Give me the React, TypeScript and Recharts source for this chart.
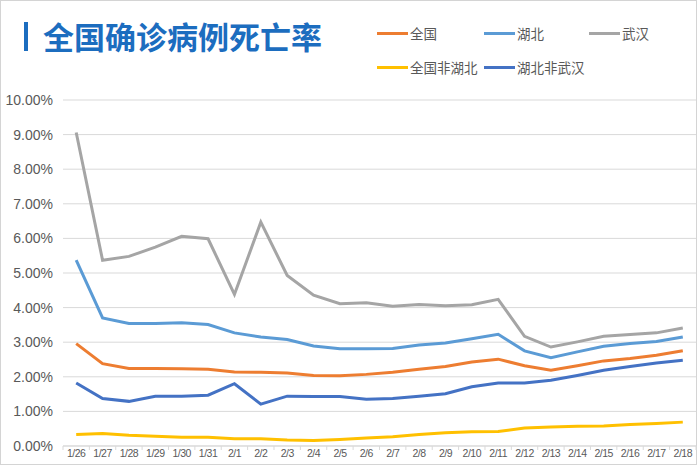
import React from 'react';
import { LineChart, Line, XAxis, YAxis, CartesianGrid } from 'recharts';

const DATES = [
  '1/26', '1/27', '1/28', '1/29', '1/30', '1/31', '2/1', '2/2', '2/3', '2/4', '2/5', '2/6',
  '2/7', '2/8', '2/9', '2/10', '2/11', '2/12', '2/13', '2/14', '2/15', '2/16', '2/17', '2/18',
];

// death rate, in percent
const NATIONAL = [2.96, 2.38, 2.24, 2.24, 2.23, 2.22, 2.14, 2.13, 2.11, 2.04, 2.03, 2.07,
  2.13, 2.22, 2.30, 2.43, 2.51, 2.32, 2.19, 2.32, 2.46, 2.53, 2.62, 2.75];
const HUBEI = [5.37, 3.70, 3.54, 3.54, 3.56, 3.51, 3.27, 3.15, 3.08, 2.89, 2.81, 2.81,
  2.82, 2.92, 2.98, 3.10, 3.23, 2.75, 2.55, 2.72, 2.88, 2.96, 3.02, 3.15];
const WUHAN = [9.06, 5.37, 5.48, 5.75, 6.06, 5.99, 4.38, 6.47, 4.93, 4.36, 4.11, 4.14,
  4.04, 4.09, 4.05, 4.08, 4.24, 3.17, 2.86, 3.01, 3.17, 3.22, 3.27, 3.41];
const OUTSIDE_HUBEI = [0.33, 0.36, 0.31, 0.28, 0.25, 0.25, 0.21, 0.21, 0.17, 0.16, 0.19, 0.23,
  0.27, 0.33, 0.38, 0.41, 0.42, 0.52, 0.55, 0.57, 0.58, 0.62, 0.65, 0.69];
const HUBEI_EX_WUHAN = [1.82, 1.37, 1.29, 1.44, 1.44, 1.47, 1.80, 1.21, 1.44, 1.43, 1.43, 1.35,
  1.37, 1.44, 1.51, 1.71, 1.82, 1.82, 1.90, 2.04, 2.19, 2.30, 2.40, 2.48];

const Y_TICKS = [0, 1, 2, 3, 4, 5, 6, 7, 8, 9, 10];

const SERIES = [
  { key: 'national', name: '全国', color: '#ED7D31', values: NATIONAL },
  { key: 'hubei', name: '湖北', color: '#5B9BD5', values: HUBEI },
  { key: 'wuhan', name: '武汉', color: '#A5A5A5', values: WUHAN },
  { key: 'outside', name: '全国非湖北', color: '#FFC000', values: OUTSIDE_HUBEI },
  { key: 'hubeiEx', name: '湖北非武汉', color: '#4472C4', values: HUBEI_EX_WUHAN },
];

const data = DATES.map((d, i) => {
  const row: Record<string, unknown> = { date: d };
  SERIES.forEach((s) => { row[s.key] = s.values[i]; });
  return row;
});

const FONT = '"Liberation Sans", "Noto Sans CJK SC", sans-serif';
const CJK = '"Noto Sans CJK SC", "Liberation Sans", sans-serif';
const HALF = 13.2;

// legend slots: [left of line, top centre]
const LEGEND_POS = [[377, 33], [484, 33], [589, 33], [377, 67], [484, 67]];

function XTick(props: any) {
  const { x, y, payload, index } = props;
  const last = index === DATES.length - 1;
  return (
    <g>
      <line x1={x - HALF} x2={x - HALF} y1={446} y2={450} stroke="#d9d9d9" />
      {last && <line x1={x + HALF} x2={x + HALF} y1={446} y2={450} stroke="#d9d9d9" />}
      <text x={x} y={y + 9} textAnchor="middle" fill="#595959" fontSize={10.5} letterSpacing={-0.5} fontFamily={FONT}>
        {payload.value}
      </text>
    </g>
  );
}

export default function App() {
  return (
    <div style={{ position: 'absolute', left: 0, top: 0, width: 700, height: 467, background: '#fff' }}>
      <div style={{ position: 'absolute', left: 0, top: 0, width: 695, height: 463, border: '1.5px solid #d4d4d4' }} />
      <div style={{ position: 'absolute', left: 24, top: 22, width: 4, height: 29, background: '#1c6dbf' }} />
      <div style={{
        position: 'absolute', left: 43, top: 18, fontFamily: CJK, fontWeight: 700, fontSize: 31,
        lineHeight: '36px', color: '#1c6dbf', whiteSpace: 'nowrap',
      }}>
        全国确诊病例死亡率
      </div>
      {SERIES.map((s, i) => (
        <div key={s.key} style={{ position: 'absolute', left: LEGEND_POS[i][0], top: LEGEND_POS[i][1] - 10, height: 20, display: 'flex', alignItems: 'center' }}>
          <div style={{ width: 31, height: 3, background: s.color, marginRight: 2 }} />
          <span style={{ fontFamily: CJK, fontSize: 13.5, color: '#595959', whiteSpace: 'nowrap' }}>{s.name}</span>
        </div>
      ))}
      <div style={{ position: 'absolute', left: 0, top: 0 }}>
        <LineChart width={700} height={467} data={data} margin={{ top: 100, right: 4, bottom: 1, left: 0 }}>
          <CartesianGrid stroke="#d9d9d9" vertical={false} />
          <XAxis
            dataKey="date"
            padding={{ left: HALF, right: HALF }}
            height={20}
            tickLine={false}
            tickSize={0}
            axisLine={{ stroke: '#d9d9d9' }}
            interval={0}
            tick={<XTick />}
          />
          <YAxis
            domain={[0, 10]}
            ticks={Y_TICKS}
            width={63}
            axisLine={false}
            tickLine={false}
            tickSize={0}
            tickMargin={10}
            tickFormatter={(v: number) => v.toFixed(2) + '%'}
            tick={{ fill: '#595959', fontSize: 14, fontFamily: FONT }}
          />
          {SERIES.map((s) => (
            <Line
              key={s.key}
              dataKey={s.key}
              name={s.name}
              type="linear"
              stroke={s.color}
              strokeWidth={3}
              dot={false}
              activeDot={false}
              isAnimationActive={false}
            />
          ))}
        </LineChart>
      </div>
    </div>
  );
}
